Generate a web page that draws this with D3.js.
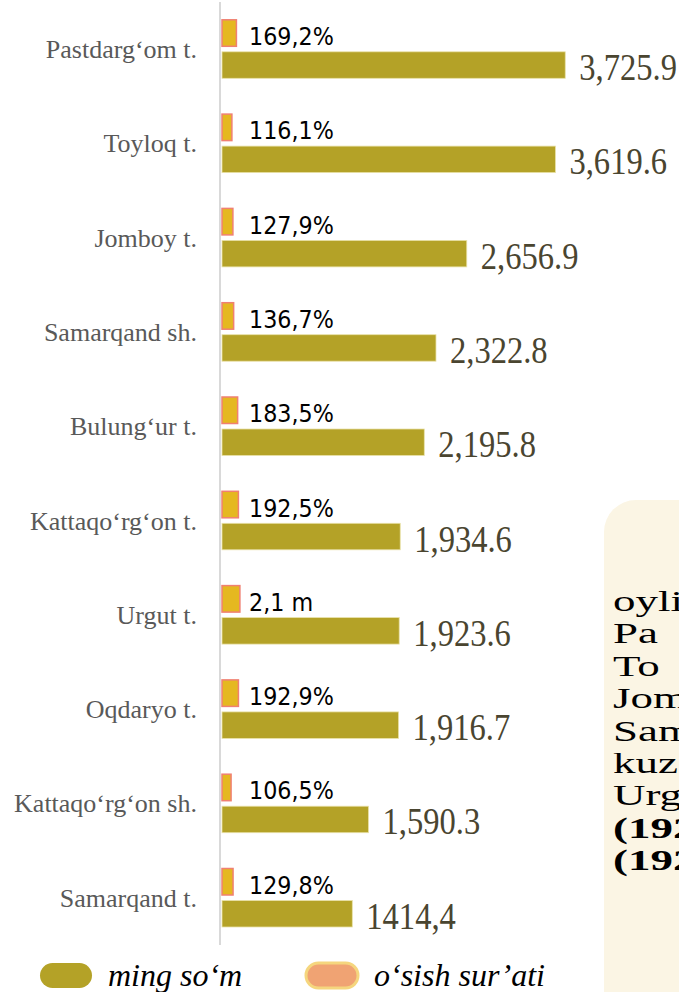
<!DOCTYPE html>
<meta charset="utf-8">
<style>
  body { margin: 0; background: #fff; }
  svg { display: block; }
  .cat { font: 26px "Liberation Serif", serif; fill: #595959; text-anchor: end; }
  .val { font: 37px "Liberation Serif", serif; fill: #4a4530; }
  .pct { font: 25px "DejaVu Sans", sans-serif; fill: #000; }
  .leg { font: italic 32px "Liberation Serif", serif; fill: #000; }
  .note { font: 29px "Liberation Serif", serif; fill: #000; }
</style>
<svg width="679" height="992"></svg>
<script src="https://d3js.org/d3.v7.min.js"></script>
<script>
  var categories = ["Pastdarg‘om t.", "Toyloq t.", "Jomboy t.", "Samarqand sh.", "Bulung‘ur t.",
                    "Kattaqo‘rg‘on t.", "Urgut t.", "Oqdaryo t.", "Kattaqo‘rg‘on sh.", "Samarqand t."];
  var values = [3725.9, 3619.6, 2656.9, 2322.8, 2195.8, 1934.6, 1923.6, 1916.7, 1590.3, 1414.4];
  var valueLabels = ["3,725.9", "3,619.6", "2,656.9", "2,322.8", "2,195.8", "1,934.6", "1,923.6", "1,916.7", "1,590.3", "1414,4"];
  var growth = [169.2, 116.1, 127.9, 136.7, 183.5, 192.5, 210, 192.9, 106.5, 129.8];
  var growthLabels = ["169,2%", "116,1%", "127,9%", "136,7%", "183,5%", "192,5%", "2,1 m", "192,9%", "106,5%", "129,8%"];
  var noteLines = ["oylik", "Pa", "To", "Jomboy", "Samarqand", "kuzatildi", "Urgut", "(192,9%)", "(192,5%)"];

  var svg = d3.select("svg");

  var y = d3.scaleBand().domain(categories).range([2, 945]);
  var x = d3.scaleLinear().domain([0, 4000]).range([221, 589.5]);
  var xg = d3.scaleLinear().domain([0, 250]).range([221, 242.3]);

  // note box on the right (cut off by the page edge)
  svg.append("rect")
    .attr("x", 604).attr("y", 500).attr("width", 120).attr("height", 540)
    .attr("rx", 32).attr("fill", "#fbf5e4");

  svg.selectAll(".note").data(noteLines).enter().append("text")
    .attr("class", "note")
    .attr("transform", function(d, i) { return "translate(613," + (611 + i * 32.4) + ") scale(1.55,1)"; })
    .style("font-weight", function(d, i) { return i >= 7 ? "bold" : null; })
    .text(function(d) { return d; });

  // axis line
  svg.append("line")
    .attr("x1", 220).attr("x2", 220).attr("y1", 2).attr("y2", 945)
    .attr("stroke", "#d9d9d9").attr("stroke-width", 2);

  var rows = svg.selectAll(".row")
    .data(categories)
    .enter().append("g")
    .attr("class", "row")
    .attr("transform", function(d) { return "translate(0," + y(d) + ")"; });

  rows.append("rect")
    .attr("x", x(0) + 1)
    .attr("y", 17.8)
    .attr("width", function(d, i) { return xg(growth[i]) - xg(0); })
    .attr("height", 26.5)
    .attr("fill", "#e5b820")
    .attr("stroke", "#f08072")
    .attr("stroke-width", 1.5);

  rows.append("rect")
    .attr("x", x(0) + 1)
    .attr("y", 49.8)
    .attr("width", function(d, i) { return x(values[i]) - x(0); })
    .attr("height", 26.5)
    .attr("fill", "#b4a227")
    .attr("stroke", "#e9e2a8")
    .attr("stroke-width", 0.8);

  rows.append("text")
    .attr("class", "cat")
    .attr("x", 197)
    .attr("y", 56)
    .text(function(d) { return d; });

  rows.append("text")
    .attr("class", "pct")
    .attr("transform", "translate(249,43) scale(0.89,1)")
    .text(function(d, i) { return growthLabels[i]; });

  rows.append("text")
    .attr("class", "val")
    .attr("transform", function(d, i) { return "translate(" + (x(values[i]) + 15) + ",78) scale(0.88,1)"; })
    .text(function(d, i) { return valueLabels[i]; });

  // legend
  var legend = [
    { label: "ming so‘m", fill: "#b4a227", stroke: "none", x: 40, tx: 108 },
    { label: "o‘sish sur’ati", fill: "#f0a373", stroke: "#f5d67e", x: 306, tx: 374 }
  ];
  var lg = svg.selectAll(".lg").data(legend).enter().append("g").attr("class", "lg");
  lg.append("rect")
    .attr("x", function(d) { return d.x; })
    .attr("y", 963)
    .attr("width", 52).attr("height", 25).attr("rx", 12.5)
    .attr("fill", function(d) { return d.fill; })
    .attr("stroke", function(d) { return d.stroke; })
    .attr("stroke-width", 3);
  lg.append("text")
    .attr("class", "leg")
    .attr("x", function(d) { return d.tx; })
    .attr("y", 986)
    .text(function(d) { return d.label; });
</script>
